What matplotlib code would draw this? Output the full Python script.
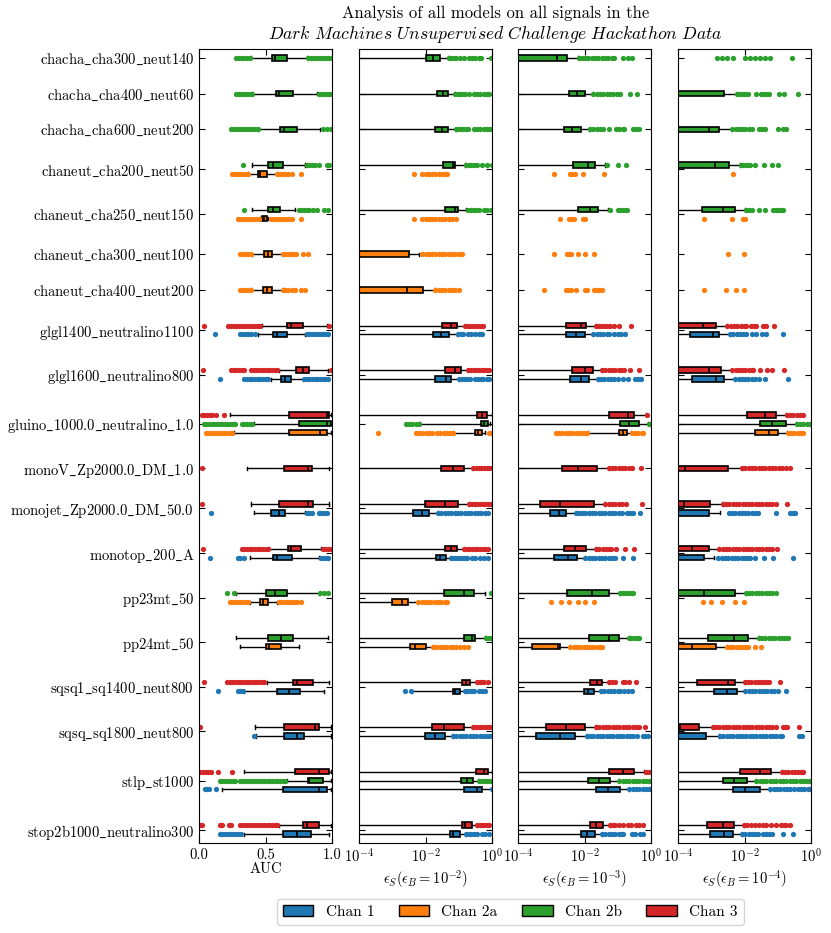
import matplotlib
matplotlib.use('Agg')
import matplotlib.pyplot as plt
from matplotlib.patches import Patch
from matplotlib.ticker import NullLocator, FixedLocator, LogFormatterSciNotation

plt.rcParams['font.family'] = 'serif'
plt.rcParams['font.serif'] = ['cmr10']
plt.rcParams['mathtext.fontset'] = 'cm'
plt.rcParams['axes.formatter.use_mathtext'] = True

SIGNALS = ['chacha_cha300_neut140', 'chacha_cha400_neut60', 'chacha_cha600_neut200',
           'chaneut_cha200_neut50', 'chaneut_cha250_neut150', 'chaneut_cha300_neut100',
           'chaneut_cha400_neut200', 'glgl1400_neutralino1100', 'glgl1600_neutralino800',
           'gluino_1000.0_neutralino_1.0', 'monoV_Zp2000.0_DM_1.0', 'monojet_Zp2000.0_DM_50.0',
           'monotop_200_A', 'pp23mt_50', 'pp24mt_50', 'sqsq1_sq1400_neut800',
           'sqsq_sq1800_neut800', 'stlp_st1000', 'stop2b1000_neutralino300']
CHANNELS = ['1', '2a', '2b', '3']
CHANNEL_LABELS = ['Chan 1', 'Chan 2a', 'Chan 2b', 'Chan 3']
COLORS = {'1': '#1f77b4', '2a': '#ff7f0e', '2b': '#2ca02c', '3': '#d62728'}
ORDER = ['3', '2b', '2a', '1']   # top to bottom inside a signal group

# rows: (signal index, channel, [whislo, q1, med, q3, whishi] or None, fliers)
AUC_ROWS = [
    (0, '2b', [0.39, 0.55, 0.57, 0.66, 0.81], [0.28, 0.30, 0.32, 0.34, 0.36, 0.38, 0.82, 0.84, 0.86, 0.88, 0.90, 0.92, 0.94, 0.96, 0.98, 1.0]),
    (1, '2b', [0.40, 0.58, 0.60, 0.71, 0.89], [0.28, 0.30, 0.32, 0.34, 0.36, 0.38, 0.40, 0.90, 0.92, 0.94, 0.96, 0.98, 1.0]),
    (2, '2b', [0.44, 0.61, 0.64, 0.74, 0.91], [0.24, 0.26, 0.28, 0.30, 0.32, 0.34, 0.36, 0.38, 0.40, 0.42, 0.44, 0.93, 0.96, 0.99]),
    (3, '2b', [0.40, 0.52, 0.56, 0.63, 0.80], [0.33, 0.81, 0.83, 0.85, 0.87, 0.90, 0.96, 0.98]),
    (3, '2a', [0.37, 0.44, 0.46, 0.51, 0.59], [0.25, 0.27, 0.29, 0.31, 0.33, 0.35, 0.37, 0.59, 0.61, 0.63, 0.65, 0.67, 0.70, 0.77]),
    (4, '2b', [0.40, 0.52, 0.56, 0.61, 0.72], [0.34, 0.75, 0.77, 0.79, 0.81, 0.83, 0.86, 0.89, 0.94, 0.97]),
    (4, '2a', [0.46, 0.47, 0.49, 0.51, 0.52], [0.29, 0.31, 0.33, 0.35, 0.37, 0.39, 0.41, 0.43, 0.45, 0.54, 0.56, 0.58, 0.60, 0.62, 0.64, 0.66, 0.68, 0.70, 0.77]),
    (5, '2a', [0.40, 0.49, 0.52, 0.55, 0.63], [0.31, 0.33, 0.35, 0.37, 0.39, 0.63, 0.65, 0.67, 0.69, 0.71, 0.73, 0.78, 0.82]),
    (6, '2a', [0.39, 0.48, 0.51, 0.55, 0.63], [0.31, 0.33, 0.35, 0.37, 0.39, 0.63, 0.65, 0.67, 0.70, 0.72, 0.77, 0.80]),
    (7, '3', [0.47, 0.66, 0.69, 0.78, 0.96], [0.04, 0.22, 0.24, 0.26, 0.28, 0.30, 0.32, 0.34, 0.36, 0.38, 0.40, 0.42, 0.44, 0.46, 0.98]),
    (7, '1', [0.44, 0.56, 0.59, 0.66, 0.80], [0.12, 0.31, 0.33, 0.35, 0.37, 0.39, 0.42, 0.81, 0.83, 0.85, 0.87, 0.89, 0.91, 0.93, 0.95, 0.97]),
    (8, '3', [0.60, 0.73, 0.78, 0.83, 0.97], [0.03, 0.24, 0.26, 0.28, 0.30, 0.32, 0.34, 0.39, 0.41, 0.43, 0.45, 0.47, 0.49, 0.51, 0.53, 0.55, 0.57, 0.59, 0.99]),
    (8, '1', [0.54, 0.62, 0.65, 0.69, 0.78], [0.16, 0.34, 0.36, 0.38, 0.40, 0.42, 0.44, 0.46, 0.48, 0.50, 0.52, 0.79, 0.81, 0.83, 0.85, 0.87, 0.89, 0.91, 0.93, 0.95, 0.97]),
    (9, '3', [0.23, 0.68, 0.96, 0.98, 0.99], [0.02, 0.04, 0.06, 0.08, 0.10, 0.13, 0.19]),
    (9, '2b', [0.41, 0.75, 0.96, 0.99, 1.0], [0.035, 0.055, 0.075, 0.095, 0.115, 0.135, 0.155, 0.175, 0.195, 0.215, 0.235, 0.255, 0.27, 0.32, 0.34, 0.36, 0.38, 0.40]),
    (9, '2a', [0.26, 0.68, 0.91, 0.96, 0.99], [0.05, 0.07, 0.09, 0.11, 0.13, 0.15, 0.17, 0.19, 0.21, 0.23, 0.25]),
    (10, '3', [0.36, 0.64, 0.82, 0.85, 0.98], [0.02]),
    (11, '3', [0.39, 0.60, 0.82, 0.86, 0.98], [0.02]),
    (11, '1', [0.41, 0.54, 0.60, 0.65, 0.80], [0.09, 0.81, 0.83, 0.85, 0.90, 0.92, 0.94, 0.96]),
    (12, '3', [0.53, 0.67, 0.69, 0.77, 0.92], [0.03, 0.32, 0.34, 0.36, 0.38, 0.40, 0.42, 0.44, 0.46, 0.48, 0.50, 0.52, 0.93, 0.95, 0.97, 0.99]),
    (12, '1', [0.38, 0.56, 0.59, 0.70, 0.90], [0.08, 0.29, 0.31, 0.34, 0.92, 0.94, 0.96, 0.97]),
    (13, '2b', [0.28, 0.50, 0.57, 0.66, 0.90], [0.21, 0.26, 0.91, 0.94, 0.97]),
    (13, '2a', [0.38, 0.46, 0.48, 0.52, 0.59], [0.23, 0.25, 0.27, 0.29, 0.31, 0.33, 0.35, 0.37, 0.60, 0.62, 0.64, 0.66, 0.68, 0.70, 0.72, 0.74, 0.77]),
    (14, '2b', [0.28, 0.52, 0.62, 0.71, 0.97], []),
    (14, '2a', [0.31, 0.50, 0.53, 0.62, 0.75], []),
    (15, '3', [0.51, 0.71, 0.74, 0.86, 0.98], [0.04, 0.21, 0.23, 0.25, 0.27, 0.29, 0.31, 0.33, 0.35, 0.37, 0.39, 0.41, 0.43, 0.45, 0.47, 0.49]),
    (15, '1', [0.34, 0.59, 0.68, 0.76, 0.94], [0.14, 0.29, 0.31, 0.33]),
    (16, '3', [0.42, 0.64, 0.87, 0.90, 0.995], [0.005]),
    (16, '1', [0.43, 0.64, 0.74, 0.79, 0.995], [0.41]),
    (17, '3', [0.34, 0.72, 0.90, 0.98, 0.995], [0.01, 0.03, 0.05, 0.07, 0.09, 0.14, 0.25]),
    (17, '2b', [0.66, 0.82, 0.83, 0.93, 0.995], [0.155, 0.175, 0.195, 0.215, 0.235, 0.255, 0.27, 0.31, 0.33, 0.35, 0.37, 0.39, 0.41, 0.43, 0.45, 0.47, 0.49, 0.51, 0.53, 0.55, 0.57, 0.59, 0.61, 0.63, 0.65]),
    (17, '1', [0.17, 0.63, 0.90, 0.96, 0.995], [0.045, 0.06, 0.075, 0.125]),
    (18, '3', [0.60, 0.78, 0.81, 0.90, 0.995], [0.005, 0.02, 0.155, 0.175, 0.225, 0.24, 0.31, 0.33, 0.35, 0.37, 0.39, 0.41, 0.43, 0.45, 0.47, 0.49, 0.51, 0.53, 0.55, 0.57, 0.59]),
    (18, '1', [0.34, 0.63, 0.74, 0.84, 0.98], [0.155, 0.175, 0.195, 0.215, 0.235, 0.255, 0.275, 0.295, 0.315]),
]

# eps_S panels: values are log10(eps_S)
EPS2_ROWS = [
    (0, '2b', [-6, -1.99, -1.78, -1.57, -1.32], [-1.29, -1.22, -1.15, -1.08, -0.95, -0.85, -0.7, -0.6, -0.5, -0.4, -0.32, -0.02]),
    (1, '2b', [-6, -1.65, -1.47, -1.32, -1.12], [-1.10, -1.03, -0.96, -0.89, -0.82, -0.68, -0.55, -0.45, -0.35, -0.25, -0.15, -0.08]),
    (2, '2b', [-6, -1.71, -1.50, -1.32, -1.09], [-1.07, -1.0, -0.93, -0.86, -0.79, -0.72, -0.55, -0.45, -0.35, -0.25, -0.15, -0.05, 0.0]),
    (3, '2b', [-6, -1.47, -1.17, -1.10, -0.81], [-0.78, -0.7, -0.62, -0.54, -0.46, -0.3, -0.15, 0.0]),
    (3, '2a', None, [-2.35, -2.10, -2.0, -1.9, -1.8, -1.7, -1.6, -1.5, -1.4, -1.35]),
    (4, '2b', [-6, -1.42, -1.10, -1.02, -0.78], [-0.71, -0.63, -0.55, -0.47, -0.40, -0.25, -0.15, -0.02]),
    (4, '2a', None, [-2.35, -2.10, -2.0, -1.9, -1.8, -1.7, -1.6, -1.5, -1.4, -1.3, -1.2, -1.08]),
    (5, '2a', [-6, -4.5, -4.3, -2.50, -2.19], [-2.10, -2.0, -1.9, -1.8, -1.7, -1.6, -1.5, -1.4, -1.3, -1.2, -1.1, -1.0, -0.91]),
    (6, '2a', [-6, -4.5, -2.55, -2.09, -1.72], [-1.70, -1.6, -1.5, -1.4, -1.3, -1.2, -1.1, -0.98]),
    (7, '3', [-6, -1.50, -1.22, -1.05, -0.81], [-0.81, -0.73, -0.65, -0.57, -0.49, -0.41, -0.33, -0.26]),
    (7, '1', [-6, -1.77, -1.52, -1.29, -1.04], [-1.02, -0.94, -0.86, -0.72, -0.64, -0.5, -0.4, -0.29]),
    (8, '3', [-6, -1.41, -1.12, -0.94, -0.71], [-0.71, -0.63, -0.55, -0.47, -0.39, -0.31, -0.23, -0.15, -0.08]),
    (8, '1', [-6, -1.71, -1.39, -1.22, -0.98], [-0.98, -0.9, -0.82, -0.74, -0.66, -0.5, -0.42, -0.34, -0.26, -0.14, -0.08]),
    (9, '3', [-6, -0.46, -0.29, -0.16, -0.01], []),
    (9, '2b', [-2.17, -0.33, -0.25, -0.12, -0.06], [-2.59, -2.5, -2.4, -2.3, -2.2]),
    (9, '2a', [-1.17, -0.51, -0.41, -0.29, -0.21], [-3.43, -2.30, -2.2, -2.1, -2.0, -1.9, -1.8, -1.65, -1.55, -1.45, -1.35, -1.25, -1.17, -0.09, -0.02]),
    (10, '3', [-6, -1.54, -1.17, -0.83, -0.56], [-0.56, -0.48, -0.40, -0.32, -0.24, -0.16, -0.08, -0.01]),
    (11, '3', [-6, -2.02, -1.42, -1.02, -0.68], [-0.68, -0.6, -0.52, -0.44, -0.36, -0.28, -0.2, -0.12, -0.04, 0.0]),
    (11, '1', [-6, -2.37, -2.12, -1.89, -1.62], [-1.62, -1.52, -1.42, -1.32, -1.22, -1.12, -1.02, -0.92, -0.82, -0.72, -0.62, -0.52, -0.42, -0.32, -0.22, -0.11]),
    (12, '3', [-6, -1.42, -1.22, -1.05, -0.84], [-0.84, -0.76, -0.68, -0.60, -0.52, -0.44, -0.36, -0.28, -0.2, -0.11]),
    (12, '1', [-6, -1.69, -1.55, -1.39, -1.22], [-1.22, -1.14, -1.06, -0.98, -0.90, -0.82, -0.74, -0.6, -0.5, -0.35, -0.25, -0.11]),
    (13, '2b', [-6, -1.44, -0.83, -0.54, -0.21], [-0.03]),
    (13, '2a', [-6, -3.0, -2.70, -2.52, -2.22], [-2.22, -2.12, -2.02, -1.92, -1.82, -1.72, -1.62, -1.52, -1.42, -1.35]),
    (14, '2b', [-6, -0.84, -0.61, -0.51, -0.21], [-0.18, -0.1, -0.02]),
    (14, '2a', [-6, -2.47, -2.32, -2.0, -1.77], [-1.77, -1.67, -1.57, -1.47, -1.37, -1.27, -1.17, -1.07, -0.97, -0.85, -0.72]),
    (15, '3', [-6, -0.91, -0.78, -0.66, -0.44], [-0.44, -0.37, -0.30, -0.23, -0.11]),
    (15, '1', [-2.42, -1.17, -1.10, -0.97, -0.81], [-2.62, -2.44, -0.81, -0.74, -0.67, -0.60, -0.53, -0.4, -0.3, -0.21]),
    (16, '3', [-6, -1.80, -1.45, -0.84, -0.56], [-0.56, -0.48, -0.40, -0.32, -0.24, -0.16, -0.08, 0.0]),
    (16, '1', [-6, -2.01, -1.70, -1.42, -1.17], [-1.17, -1.07, -0.97, -0.87, -0.77, -0.67, -0.57, -0.47, -0.37, -0.27, -0.17, -0.08, 0.0]),
    (17, '3', [-6, -0.49, -0.23, -0.13, -0.01], []),
    (17, '2b', [-6, -0.93, -0.76, -0.58, -0.38], [-0.38, -0.30, -0.22, -0.14, -0.06, 0.0]),
    (17, '1', [-6, -0.84, -0.46, -0.31, 0.0], [0.0]),
    (18, '3', [-6, -0.91, -0.80, -0.61, -0.44], [-0.44, -0.37, -0.30, -0.23, -0.16, -0.08]),
    (18, '1', [-6, -1.27, -1.17, -0.95, -0.78], [-0.78, -0.70, -0.62, -0.54, -0.46, -0.3, -0.2, -0.08]),
]

EPS3_ROWS = [
    (0, '2b', [-6, -4.5, -2.82, -2.52, -2.20], [-2.18, -2.08, -1.98, -1.88, -1.78, -1.68, -1.58, -1.48, -1.38, -1.28, -1.18, -1.1, -0.85, -0.7, -0.58]),
    (1, '2b', [-6, -2.47, -2.23, -1.99, -1.75], [-1.73, -1.63, -1.53, -1.43, -1.33, -1.23, -1.13, -1.03, -0.93, -0.62, -0.43]),
    (2, '2b', [-6, -2.62, -2.37, -2.12, -1.85], [-1.83, -1.73, -1.63, -1.53, -1.43, -1.27, -1.05, -0.95, -0.85, -0.80, -0.55, -0.45, -0.35]),
    (3, '2b', [-6, -2.35, -1.90, -1.67, -1.39], [-1.32, -1.0, -0.75]),
    (3, '2a', None, [-2.92, -2.45, -2.38, -2.30, -2.05, -1.42]),
    (4, '2b', [-6, -2.19, -1.82, -1.58, -1.30], [-1.23, -1.0, -0.92, -0.84, -0.76, -0.72]),
    (4, '2a', None, [-2.75, -2.47, -2.40, -2.33, -2.05, -1.97]),
    (5, '2a', None, [-2.92, -2.52, -2.46, -2.40, -2.20, -2.00, -1.70]),
    (6, '2a', None, [-3.22, -2.57, -2.50, -2.40, -2.27, -2.00, -1.93, -1.72, -1.62, -1.55, -1.48]),
    (7, '3', [-6, -2.55, -2.10, -1.95, -1.65], [-1.65, -1.57, -1.49, -1.41, -1.33, -1.22, -1.1, -0.95, -0.60]),
    (7, '1', [-6, -2.57, -2.27, -2.0, -1.73], [-1.73, -1.63, -1.53, -1.43, -1.33, -1.25, -1.12, -1.0, -0.9, -0.77]),
    (8, '3', [-6, -2.37, -2.0, -1.75, -1.47], [-1.47, -1.37, -1.27, -1.17, -1.07, -0.97, -0.91, -0.8, -0.63, -0.35]),
    (8, '1', [-6, -2.43, -2.12, -1.87, -1.60], [-1.60, -1.50, -1.40, -1.30, -1.2, -1.1, -1.0, -0.85, -0.7, -0.47, -0.38, -0.30]),
    (9, '3', [-6, -1.27, -0.70, -0.50, -0.15], [-0.13]),
    (9, '2b', [-6, -0.92, -0.65, -0.37, -0.10], [-0.07, -0.03, 0.0]),
    (9, '2a', [-1.90, -0.95, -0.83, -0.72, -0.60], [-2.87, -2.77, -2.67, -2.57, -2.47, -2.37, -2.27, -2.17, -2.07, -1.97, -1.92, -0.58, -0.48, -0.38, -0.28, -0.23]),
    (10, '3', [-6, -2.68, -2.20, -1.62, -1.27], [-1.27, -1.17, -1.07, -0.97, -0.87, -0.77, -0.67, -0.57, -0.30]),
    (11, '3', [-6, -3.33, -2.73, -1.72, -1.37], [-1.37, -1.27, -1.17, -1.07, -0.97, -0.87, -0.75, -0.28]),
    (11, '1', [-6, -3.05, -2.77, -2.57, -2.27], [-2.27, -2.17, -2.07, -1.97, -1.87, -1.77, -1.67, -1.57, -1.47, -1.37, -1.27, -1.17, -1.07, -0.97, -0.87, -0.72, -0.62, -0.55, -0.33]),
    (12, '3', [-6, -2.62, -2.30, -1.95, -1.65], [-1.65, -1.55, -1.45, -1.35, -1.25, -1.2, -1.05, -0.78, -0.50]),
    (12, '1', [-6, -2.92, -2.5, -2.23, -1.97], [-1.97, -1.87, -1.77, -1.67, -1.57, -1.47, -1.37, -1.27, -1.17, -1.07, -0.83, -0.55]),
    (13, '2b', [-6, -2.52, -1.78, -1.25, -0.93], [-0.93, -0.85, -0.77, -0.69, -0.61, -0.53]),
    (13, '2a', None, [-3.0, -2.7, -2.48, -2.2, -1.97, -1.70]),
    (14, '2b', [-6, -1.85, -1.27, -0.97, -0.67], [-0.67, -0.59, -0.51, -0.43, -0.37]),
    (14, '2a', [-6, -3.58, -2.80, -2.73, -2.43], [-2.43, -2.33, -2.23, -2.13, -2.03, -1.93, -1.83, -1.73, -1.63, -1.53, -1.47]),
    (15, '3', [-6, -1.82, -1.62, -1.47, -1.25], [-1.25, -1.17, -1.09, -0.85, -0.77, -0.67, -0.45]),
    (15, '1', [-6, -2.03, -1.90, -1.70, -1.50], [-1.50, -1.40, -1.30, -1.20, -1.10, -1.0, -0.94, -0.8, -0.7, -0.57]),
    (16, '3', [-6, -3.17, -2.55, -1.97, -1.65], [-1.65, -1.55, -1.45, -1.35, -1.25, -1.15, -1.05, -0.95, -0.85, -0.75, -0.65, -0.55, -0.45, -0.37, -0.17]),
    (16, '1', [-6, -3.45, -2.75, -2.30, -1.93], [-1.93, -1.83, -1.73, -1.63, -1.53, -1.43, -1.33, -1.23, -1.13, -1.03, -0.93, -0.83, -0.73, -0.63, -0.53, -0.41, -0.25, -0.17, -0.10]),
    (17, '3', [-6, -1.25, -0.83, -0.50, -0.20], [-0.15, -0.07]),
    (17, '2b', [-6, -1.90, -1.55, -1.23, -0.95], [-0.95, -0.85, -0.75, -0.65, -0.55, -0.45, -0.35, -0.25, -0.15, -0.07, 0.0]),
    (17, '1', [-6, -1.65, -1.30, -0.92, -0.65], [-0.65, -0.55, -0.45, -0.35, -0.25, -0.15, -0.07, 0.0]),
    (18, '3', [-6, -1.83, -1.65, -1.43, -1.23], [-1.23, -1.15, -1.07, -0.95, -0.85, -0.7, -0.6, -0.45, -0.35, -0.25]),
    (18, '1', [-6, -2.10, -1.92, -1.68, -1.47], [-1.47, -1.37, -1.27, -1.17, -1.07, -0.97, -0.9, -0.83, -0.57, -0.47, -0.32, -0.25]),
]

EPS4_ROWS = [
    (0, '2b', None, [-2.84, -2.69, -2.52, -2.34, -1.99, -1.84, -1.69, -1.54, -1.39, -1.22, -0.58]),
    (1, '2b', [-6, -4.5, -4.5, -2.62, -2.24], [-2.22, -2.14, -2.06, -1.98, -1.89, -1.66, -1.49, -1.42, -1.35, -1.26, -0.95, -0.81, -0.40]),
    (2, '2b', [-6, -4.5, -3.08, -2.77, -2.39], [-2.37, -2.27, -2.17, -2.07, -1.97, -1.87, -1.78, -1.56, -1.47, -1.37, -0.98, -0.85, -0.76]),
    (3, '2b', [-6, -4.5, -2.89, -2.48, -2.14], [-2.12, -2.04, -1.96, -1.88, -1.84, -1.69, -1.42, -1.16, -1.0]),
    (3, '2a', None, [-2.36]),
    (4, '2b', [-6, -3.28, -2.66, -2.29, -1.97], [-1.94, -1.86, -1.78, -1.57, -1.39, -1.14, -1.06, -0.98, -0.90, -0.85]),
    (4, '2a', None, [-3.23, -2.37, -2.04, -1.97]),
    (5, '2a', None, [-2.49, -2.01]),
    (6, '2a', None, [-3.23, -2.56, -2.26, -2.01]),
    (7, '3', [-6, -4.5, -3.25, -2.86, -2.52], [-2.52, -2.42, -2.32, -2.22, -2.12, -2.02, -1.96, -1.8, -1.72, -1.64, -1.45, -1.36, -1.12]),
    (7, '1', [-6, -3.63, -2.94, -2.76, -2.44], [-2.44, -2.34, -2.24, -2.14, -2.04, -1.96, -1.78, -1.66, -1.48, -1.36, -0.83]),
    (8, '3', [-6, -4.5, -3.08, -2.71, -2.37], [-2.37, -2.27, -2.17, -2.07, -1.97, -1.87, -1.77, -1.73, -1.54, -1.31, -1.16, -0.80]),
    (8, '1', [-6, -3.57, -2.86, -2.61, -2.28], [-2.28, -2.18, -2.08, -1.98, -1.88, -1.78, -1.68, -1.56, -1.37, -0.68]),
    (9, '3', [-6, -1.92, -1.38, -1.06, -0.75], [-0.73, -0.63, -0.53, -0.43, -0.33, -0.25]),
    (9, '2b', [-6, -1.54, -1.16, -0.75, -0.45], [-0.43, -0.33, -0.23, -0.13, -0.03, 0.0]),
    (9, '2a', [-6, -1.69, -1.27, -0.98, -0.71], [-0.70, -0.60, -0.50, -0.40, -0.30, -0.23]),
    (10, '3', [-6, -4.5, -3.8, -2.49, -2.09], [-2.07, -1.97, -1.87, -1.77, -1.67, -1.57, -1.47, -1.37, -1.27, -1.17, -1.07, -0.97, -0.87, -0.76, -0.63]),
    (11, '3', [-6, -4.5, -3.82, -3.03, -2.66], [-2.66, -2.56, -2.46, -2.36, -2.26, -2.16, -2.06, -1.96, -1.86, -1.76, -1.66, -1.56, -1.46, -1.36, -1.26, -1.16, -1.06, -0.71]),
    (11, '1', [-6, -4.5, -4.2, -3.07, -2.74], [-2.48, -2.38, -2.28, -2.18, -2.08, -1.98, -1.88, -1.78, -1.68, -1.59, -1.04, -0.63, -0.55, -0.48]),
    (12, '3', [-6, -4.5, -3.57, -3.08, -2.76], [-2.76, -2.66, -2.56, -2.46, -2.36, -2.26, -2.16, -2.06, -1.96, -1.86, -1.76, -1.66, -1.56, -1.46, -1.36, -1.26, -1.16, -1.02]),
    (12, '1', [-6, -4.5, -4.2, -3.22, -2.91], [-2.79, -2.69, -2.59, -2.49, -2.39, -2.29, -2.19, -2.09, -1.99, -1.91, -1.84, -1.69, -1.42, -1.14, -0.53]),
    (13, '2b', [-6, -4.5, -3.23, -2.29, -1.96], [-1.96, -1.86, -1.76, -1.66, -1.56, -1.46, -1.36, -1.26, -1.16, -1.06]),
    (13, '2a', None, [-3.25, -3.0, -2.69, -2.29, -2.01]),
    (14, '2b', [-6, -3.10, -2.31, -1.89, -1.57], [-1.57, -1.47, -1.37, -1.27, -1.17, -1.07, -0.97, -0.87, -0.77, -0.68]),
    (14, '2a', [-6, -4.5, -3.58, -2.87, -2.54], [-2.54, -2.44, -2.34, -2.24, -2.14, -2.04, -1.94, -1.89, -1.69, -1.49]),
    (15, '3', [-6, -3.42, -2.51, -2.29, -1.99], [-1.99, -1.89, -1.79, -1.69, -1.59, -1.49, -1.43, -1.35, -1.26, -0.93]),
    (15, '1', [-6, -2.92, -2.52, -2.24, -1.97], [-1.97, -1.87, -1.77, -1.67, -1.57, -1.47, -1.37, -1.33, -1.2, -1.1, -0.98, -0.76]),
    (16, '3', [-6, -4.5, -3.95, -3.37, -2.96], [-2.96, -2.86, -2.76, -2.66, -2.56, -2.46, -2.36, -2.26, -2.16, -2.06, -1.96, -1.86, -1.76, -1.66, -1.56, -1.46, -1.36, -1.26, -1.16, -1.04, -0.83, -0.77, -0.71, -0.35]),
    (16, '1', [-6, -4.5, -4.2, -3.17, -2.77], [-2.74, -2.64, -2.54, -2.44, -2.34, -2.24, -2.14, -2.04, -1.94, -1.84, -1.74, -1.64, -1.54, -1.44, -1.34, -1.24, -1.14, -1.04, -0.94, -0.88, -0.35, -0.28]),
    (17, '3', [-6, -2.14, -1.54, -1.19, -0.88], [-0.88, -0.78, -0.68, -0.58, -0.48, -0.38, -0.30, -0.25]),
    (17, '2b', [-6, -2.66, -2.31, -1.92, -1.64], [-1.64, -1.54, -1.44, -1.34, -1.24, -1.14, -1.04, -0.94, -0.84, -0.74, -0.64, -0.54, -0.44, -0.34, -0.24, -0.14, -0.06, 0.0]),
    (17, '1', [-6, -2.34, -1.99, -1.52, -1.22], [-1.22, -1.12, -1.02, -0.92, -0.82, -0.72, -0.62, -0.5, -0.4, -0.3, -0.2, -0.1, -0.03]),
    (18, '3', [-6, -3.13, -2.66, -2.31, -2.01], [-2.01, -1.91, -1.81, -1.69, -1.55, -1.45, -1.35, -1.2, -1.06, -0.90, -0.82, -0.74, -0.63]),
    (18, '1', [-6, -3.03, -2.62, -2.34, -2.07], [-2.07, -1.97, -1.87, -1.77, -1.67, -1.59, -1.45, -1.35, -1.25, -1.16, -0.83, -0.53]),
]

PANELS = [
    (AUC_ROWS, False, 'AUC', 869),
    (EPS2_ROWS, True, r'$\epsilon_S(\epsilon_B=10^{-2})$', 879),
    (EPS3_ROWS, True, r'$\epsilon_S(\epsilon_B=10^{-3})$', 879),
    (EPS4_ROWS, True, r'$\epsilon_S(\epsilon_B=10^{-4})$', 879),
]

# slot positions: one slot per (signal, channel), 3 empty slots between signals
present = {}
for rows, _, _, _ in PANELS:
    for s, ch, _, _ in rows:
        present.setdefault(s, set()).add(ch)
slot = {}
centers = []
y = 0
for s in range(len(SIGNALS)):
    chans = [c for c in ORDER if c in present[s]]
    ys = []
    for c in chans:
        slot[(s, c)] = y
        ys.append(y)
        y += 1
    centers.append(sum(ys) / len(ys))
    y += 3
y_last = y - 4

# the cm text font has no underscore glyph, so the labels go through mathtext
ylabels = [r'$\mathrm{' + s.replace('_', r'\_') + '}$' for s in SIGNALS]

fig = plt.figure(figsize=(8.31, 9.33), dpi=100)
lefts = [199, 359, 518, 678]
for k, (rows, log, xlabel, label_y) in enumerate(PANELS):
    ax = fig.add_axes([lefts[k] / 831, 1 - 843 / 933, 133 / 831, 794 / 933])
    conv = (lambda v: 10.0 ** v) if log else (lambda v: v)
    for s, ch, stats, fl in rows:
        pos = slot[(s, ch)]
        color = COLORS[ch]
        if stats is None:
            ax.plot([conv(v) for v in fl], [pos] * len(fl), 'o', ms=3.8,
                    color=color, mec='none', zorder=2)
            continue
        st = dict(zip(['whislo', 'q1', 'med', 'q3', 'whishi'], [conv(v) for v in stats]))
        st['fliers'] = [conv(v) for v in fl]
        ax.bxp([st], positions=[pos], widths=0.62, orientation='horizontal',
               patch_artist=True, showfliers=True, manage_ticks=False, capwidths=0.35,
               boxprops=dict(facecolor=color, edgecolor='black', linewidth=1.2),
               medianprops=dict(color='black', linewidth=1.2),
               whiskerprops=dict(color='black', linewidth=1.0),
               capprops=dict(color='black', linewidth=1.0),
               flierprops=dict(marker='o', markerfacecolor=color, markeredgecolor='none',
                               markersize=3.8))
    if log:
        ax.set_xscale('log')
        ax.set_xlim(1e-4, 1)
        ax.xaxis.set_major_locator(FixedLocator([1e-4, 1e-2, 1]))
        ax.xaxis.set_major_formatter(LogFormatterSciNotation())
        ax.xaxis.set_minor_locator(NullLocator())
    else:
        ax.set_xlim(0, 1)
        ax.set_xticks([0, 0.5, 1.0])
        ax.set_xticklabels(['0.0', '0.5', '1.0'])
    ax.set_ylim(y_last + 1, -1)
    ax.set_yticks(centers)
    if k == 0:
        ax.set_yticklabels(ylabels)
    else:
        ax.set_yticklabels([])
    ax.tick_params(direction='in', top=True, right=True, length=4, labelsize=10.5)
    ax.set_xlabel(xlabel, fontsize=10.5, va='center')
    ax.xaxis.set_label_coords(0.5, -(label_y - 843) / 794)

fig.text(0.596, 0.986, 'Analysis of all models on all signals in the',
         ha='center', va='center', fontsize=12)
fig.text(0.596, 0.9625,
         r'$\mathit{Dark\ Machines\ Unsupervised\ Challenge\ Hackathon\ Data}$',
         ha='center', va='center', fontsize=12.7)

handles = [Patch(facecolor=COLORS[c], edgecolor='black') for c in CHANNELS]
fig.legend(handles, CHANNEL_LABELS, loc='center', bbox_to_anchor=(0.614, 0.0225),
           ncol=4, fontsize=11, handlelength=2.0, handleheight=0.75,
           handletextpad=0.8, columnspacing=1.6)

fig.savefig('out.png', dpi=100)
